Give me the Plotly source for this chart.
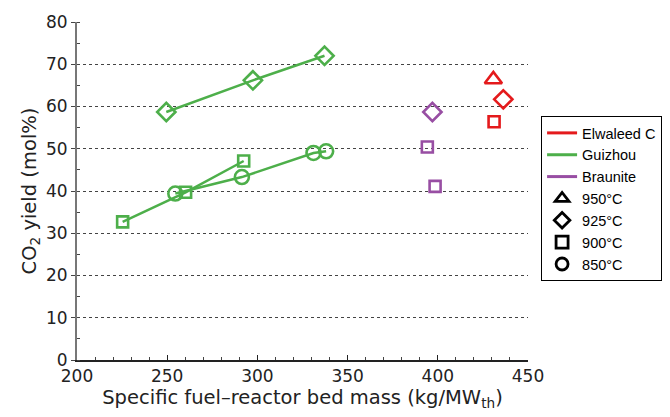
import plotly.graph_objects as go

# Guizhou
gz_925_x = [249.5, 297.5, 337.2]
gz_925_y = [58.7, 66.2, 72.0]
gz_900_x = [225.3, 260.2, 292.4]
gz_900_y = [32.7, 39.7, 47.1]
gz_850_x = [254.5, 291.4, 331.1, 338.1]
gz_850_y = [39.4, 43.3, 49.0, 49.4]
# Braunite
br_925_x = [397.0]
br_925_y = [58.7]
br_900_x = [394.2, 398.5]
br_900_y = [50.4, 41.1]
# Elwaleed C
el_950_x = [430.8]
el_950_y = [66.4]
el_925_x = [436.3]
el_925_y = [61.7]
el_900_x = [431.2]
el_900_y = [56.4]

fuels = ["Elwaleed C", "Guizhou", "Braunite"]
temps = ["950°C", "925°C", "900°C", "850°C"]
symbols = ["triangle-up-open", "diamond-open", "square-open", "circle-open"]

RED = "#e41a1c"
GREEN = "#4daf4a"
PURPLE = "#984ea3"

SIZES = {"triangle-up-open": 15, "diamond-open": 14, "square-open": 11, "circle-open": 14}

fig = go.Figure()

def add(x, y, color, sym, mode="lines+markers"):
    fig.add_trace(go.Scatter(
        x=x, y=y, mode=mode, showlegend=False,
        line=dict(color=color, width=2.5),
        marker=dict(symbol=sym, size=SIZES[sym], color=color, line=dict(width=2.6, color=color)),
    ))

add(gz_925_x, gz_925_y, GREEN, "diamond-open")
add(gz_900_x, gz_900_y, GREEN, "square-open")
add(gz_850_x, gz_850_y, GREEN, "circle-open")
add(br_925_x, br_925_y, PURPLE, "diamond-open", "markers")
add(br_900_x, br_900_y, PURPLE, "square-open", "markers")
add(el_950_x, el_950_y, RED, "triangle-up-open", "markers")
add(el_925_x, el_925_y, RED, "diamond-open", "markers")
add(el_900_x, el_900_y, RED, "square-open", "markers")

# legend entries
for name, c in zip(fuels, [RED, GREEN, PURPLE]):
    fig.add_trace(go.Scatter(x=[None], y=[None], mode="lines", name=name,
                             line=dict(color=c, width=3)))
for name, s in zip(temps, symbols):
    fig.add_trace(go.Scatter(x=[None], y=[None], mode="markers", name=name,
                             marker=dict(symbol=s, size=12, color="black",
                                         line=dict(width=2.8, color="black"))))

axis_font = dict(family="DejaVu Sans, sans-serif", size=17, color="#222")
title_font = dict(family="DejaVu Sans, sans-serif", size=19.5, color="#222")

fig.update_layout(
    width=670, height=417,
    margin=dict(l=77, r=142, t=22, b=57, autoexpand=False),
    paper_bgcolor="white", plot_bgcolor="white",
    showlegend=True,
    legend=dict(x=1.029, y=0.722, xanchor="left", yanchor="top",
                bordercolor="black", borderwidth=1,
                font=dict(family="Liberation Sans, Arial, sans-serif", size=14.5, color="black"),
                itemwidth=30, tracegroupgap=0, bgcolor="white"),
    xaxis=dict(range=[200, 450], tickvals=[200, 250, 300, 350, 400, 450],
               showgrid=False, zeroline=False,
               showline=True, linecolor="#222", linewidth=1.5,
               ticks="inside", ticklen=5, tickcolor="#222",
               minor=dict(dtick=10, ticks="inside", ticklen=3, tickcolor="#444"),
               tickfont=axis_font,
               title=dict(text="Specific fuel–reactor bed mass (kg/MW<sub>th</sub>)",
                          font=title_font, standoff=0)),
    yaxis=dict(range=[0, 80], tickvals=list(range(0, 81, 10)),
               showgrid=True, gridcolor="#444", griddash="3px,3px", gridwidth=1,
               zeroline=False,
               showline=True, linecolor="#777", linewidth=2,
               ticks="outside", ticklen=4, tickcolor="#444",
               minor=dict(dtick=5, ticks="inside", ticklen=3, tickcolor="#444", showgrid=False),
               tickfont=axis_font,
               title=dict(text="CO<sub>2</sub> yield (mol%)", font=title_font, standoff=4)),
)

fig.write_html("out.html")
